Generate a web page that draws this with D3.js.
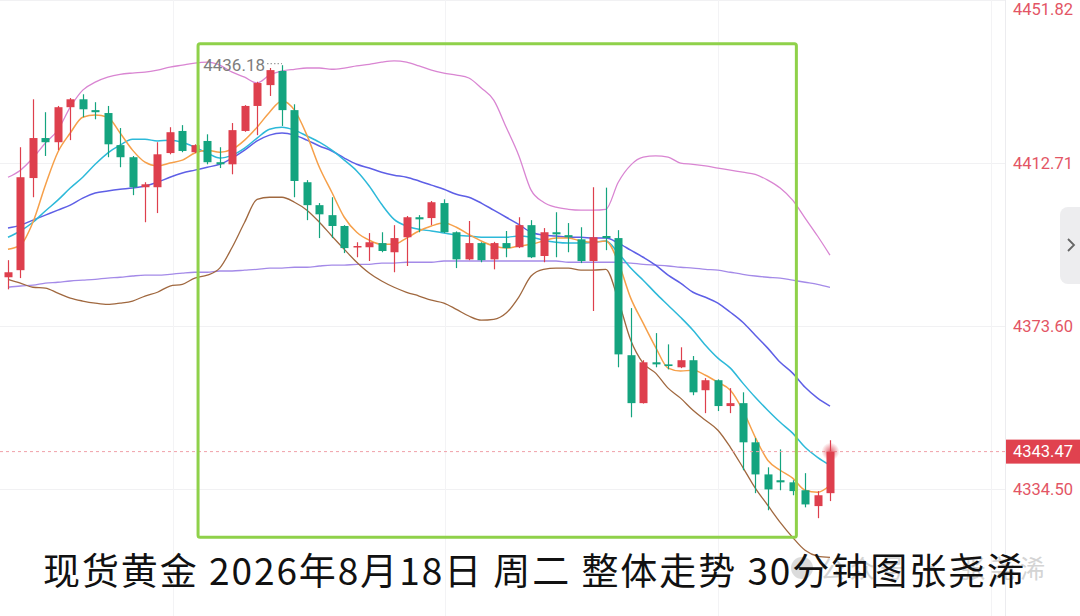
<!DOCTYPE html>
<html>
<head>
<meta charset="utf-8">
<script src="https://cdn.jsdelivr.net/npm/d3@7"></script>
<style>
  html, body { margin: 0; padding: 0; background: #fff; }
  svg { display: block; }
</style>
</head>
<body>
<div id="chart"></div>
<script>
// 30-minute candles, values
const candleOpen = [4385.3, 4387.0, 4409.1, 4418.7, 4417.7, 4426.1, 4428.0, 4425.4, 4424.7, 4417.0,
    4414.1, 4406.9, 4406.9, 4415.1, 4420.4, 4415.3, 4418.0, 4412.9, 4412.4, 4420.4,
    4426.4, 4431.4, 4434.8, 4425.4, 4408.1, 4402.6, 4400.2, 4397.6, 4392.5, 4392.5,
    4393.5, 4391.3, 4394.9, 4399.7, 4399.5, 4403.1, 4396.1, 4389.6, 4393.5, 4389.6,
    4393.5, 4392.5, 4397.8, 4390.4, 4396.1, 4395.4, 4394.4, 4389.2, 4395.2, 4394.7,
    4366.6, 4355.1, 4364.9, 4364.4, 4363.7, 4365.4, 4358.2, 4360.6, 4354.4, 4355.1,
    4345.7, 4338.0, 4336.6, 4336.1, 4334.2, 4330.4, 4333.5];
const candleHigh = [4389.4, 4416.5, 4428.0, 4424.9, 4426.4, 4428.3, 4429.2, 4427.3, 4426.4, 4421.1,
    4414.4, 4408.1, 4417.7, 4421.3, 4421.8, 4417.2, 4419.6, 4416.5, 4422.3, 4426.6,
    4432.2, 4435.5, 4436.18, 4426.8, 4408.6, 4403.1, 4404.5, 4397.8, 4393.7, 4395.9,
    4396.1, 4397.8, 4400.0, 4400.2, 4403.6, 4404.0, 4396.3, 4398.8, 4393.7, 4393.8,
    4396.4, 4399.7, 4399.0, 4397.1, 4400.9, 4398.3, 4397.3, 4406.9, 4406.8, 4396.6,
    4377.9, 4365.4, 4371.9, 4369.2, 4368.5, 4366.4, 4361.1, 4360.8, 4358.7, 4357.7,
    4346.7, 4339.7, 4344.0, 4336.6, 4338.3, 4334.0, 4346.2];
const candleLow = [4382.4, 4385.1, 4404.5, 4414.4, 4415.8, 4418.2, 4423.7, 4423.2, 4414.1, 4411.7,
    4405.0, 4398.5, 4400.7, 4414.8, 4415.3, 4415.1, 4412.4, 4411.5, 4410.0, 4420.2,
    4419.4, 4428.8, 4421.6, 4404.5, 4399.0, 4394.7, 4394.7, 4391.1, 4390.1, 4389.2,
    4391.3, 4386.5, 4388.0, 4396.1, 4397.8, 4395.9, 4387.5, 4389.4, 4388.9, 4387.2,
    4390.1, 4392.3, 4389.9, 4388.9, 4390.1, 4391.3, 4388.7, 4377.2, 4391.8, 4363.7,
    4351.7, 4355.0, 4363.7, 4363.2, 4363.5, 4357.0, 4352.7, 4353.2, 4352.7, 4339.0,
    4333.5, 4329.4, 4334.2, 4333.0, 4330.1, 4327.5, 4331.6];
const candleClose = [4386.5, 4409.3, 4418.7, 4417.7, 4426.1, 4428.0, 4425.6, 4424.9, 4417.2, 4414.1,
    4406.9, 4407.6, 4414.8, 4420.1, 4415.6, 4417.0, 4412.9, 4412.4, 4420.6, 4426.4,
    4431.9, 4435.0, 4425.4, 4408.4, 4402.6, 4400.4, 4397.6, 4392.3, 4392.8, 4393.7,
    4391.6, 4394.7, 4399.7, 4399.2, 4403.3, 4396.1, 4389.6, 4393.5, 4389.4, 4393.5,
    4392.3, 4397.8, 4390.1, 4396.1, 4395.6, 4394.9, 4389.2, 4394.9, 4394.7, 4366.8,
    4355.1, 4364.9, 4364.4, 4364.0, 4365.4, 4357.7, 4360.6, 4354.4, 4355.1, 4345.7,
    4338.0, 4334.4, 4336.1, 4334.0, 4330.8, 4333.0, 4343.47];

// moving averages
const ma5 = [4392.0, 4393.0, 4398.5, 4407.4, 4415.3, 4419.9, 4423.7, 4424.2, 4423.7, 4419.9,
    4415.8, 4412.9, 4412.0, 4412.7, 4413.4, 4415.1, 4415.8, 4415.3, 4416.0, 4418.2,
    4421.3, 4424.9, 4427.6, 4425.4, 4419.4, 4411.7, 4405.7, 4399.7, 4396.1, 4394.2,
    4393.2, 4393.2, 4394.7, 4396.4, 4397.6, 4398.3, 4397.3, 4395.6, 4394.0, 4392.8,
    4392.3, 4392.8, 4393.2, 4394.0, 4394.7, 4394.7, 4394.0, 4393.7, 4394.0, 4388.9,
    4380.3, 4374.3, 4368.5, 4363.5, 4362.8, 4363.0, 4361.8, 4360.1, 4358.2, 4353.4,
    4346.9, 4341.4, 4339.0, 4337.1, 4334.2, 4333.7, 4335.4];
const ma10 = [4394.9, 4396.4, 4398.5, 4401.2, 4403.8, 4406.7, 4409.3, 4412.4, 4415.1, 4417.0,
    4418.4, 4418.4, 4418.0, 4418.2, 4417.7, 4416.5, 4415.1, 4413.9, 4414.6, 4416.3,
    4418.7, 4420.8, 4421.3, 4420.6, 4419.2, 4417.7, 4415.8, 4413.4, 4410.8, 4407.2,
    4402.8, 4399.2, 4397.6, 4396.8, 4396.4, 4395.9, 4395.4, 4395.2, 4394.9, 4394.9,
    4394.9, 4395.2, 4394.9, 4394.2, 4393.7, 4393.5, 4393.5, 4393.7, 4394.0, 4391.1,
    4387.5, 4384.6, 4381.5, 4378.6, 4375.7, 4372.6, 4369.0, 4365.9, 4363.5, 4359.9,
    4356.5, 4353.4, 4350.5, 4347.9, 4344.5, 4342.1, 4340.2];
const ma20 = [4397.1, 4397.8, 4399.0, 4400.2, 4401.4, 4402.6, 4404.3, 4405.5, 4406.0, 4406.4,
    4406.7, 4407.2, 4408.1, 4409.3, 4410.3, 4411.0, 4411.7, 4412.4, 4413.9, 4415.8,
    4418.0, 4419.4, 4419.9, 4419.4, 4418.2, 4416.8, 4415.6, 4413.9, 4412.4, 4411.5,
    4410.5, 4409.8, 4409.3, 4408.4, 4407.4, 4406.4, 4405.2, 4404.5, 4403.1, 4401.4,
    4399.7, 4398.0, 4396.1, 4395.4, 4395.2, 4394.9, 4394.9, 4394.7, 4394.7, 4393.5,
    4391.8, 4390.1, 4388.2, 4385.8, 4383.9, 4381.7, 4380.5, 4379.1, 4376.9, 4374.5,
    4371.4, 4368.3, 4364.9, 4362.3, 4358.9, 4356.3, 4354.4];
const ma60 = [4382.9, 4383.2, 4383.4, 4383.9, 4384.1, 4384.4, 4384.6, 4384.8, 4385.1, 4385.3,
    4385.6, 4385.8, 4385.8, 4386.0, 4386.3, 4386.5, 4386.5, 4386.8, 4386.8, 4387.0,
    4387.2, 4387.5, 4387.5, 4387.7, 4387.7, 4388.0, 4388.2, 4388.2, 4388.4, 4388.4,
    4388.7, 4388.7, 4388.9, 4388.9, 4388.9, 4389.2, 4389.2, 4389.2, 4389.2, 4389.2,
    4389.2, 4389.2, 4389.2, 4389.2, 4389.2, 4388.9, 4388.9, 4388.9, 4388.9, 4388.9,
    4388.7, 4388.4, 4388.2, 4388.0, 4387.7, 4387.5, 4387.2, 4387.0, 4386.5, 4386.0,
    4385.6, 4385.3, 4385.1, 4384.6, 4384.1, 4383.6, 4382.9];

// bollinger bands
const bollUpper = [4409.3, 4411.0, 4413.9, 4417.5, 4420.6, 4426.1, 4430.2, 4432.1, 4433.3, 4434.0,
    4434.3, 4434.5, 4435.0, 4435.7, 4436.2, 4436.7, 4436.9, 4436.2, 4434.5, 4433.3,
    4431.9, 4433.8, 4434.8, 4435.2, 4435.5, 4435.5, 4435.2, 4435.5, 4436.0, 4436.4,
    4436.9, 4437.2, 4436.9, 4436.0, 4435.0, 4434.3, 4433.8, 4433.1, 4430.7, 4427.8,
    4421.3, 4414.6, 4406.2, 4403.3, 4402.1, 4401.6, 4401.4, 4401.4, 4401.6, 4408.1,
    4412.2, 4414.1, 4414.4, 4414.1, 4412.7, 4412.4, 4412.0, 4411.5, 4411.0, 4410.5,
    4410.0, 4408.6, 4406.7, 4403.8, 4399.5, 4395.2, 4390.6];
const bollLower = [4384.8, 4383.9, 4382.9, 4382.7, 4381.5, 4380.3, 4379.6, 4379.1, 4378.8, 4379.1,
    4379.6, 4380.8, 4381.7, 4383.2, 4383.6, 4385.1, 4385.8, 4387.5, 4392.5, 4398.5,
    4404.0, 4404.5, 4404.5, 4403.3, 4401.4, 4398.5, 4395.2, 4392.0, 4388.9, 4386.3,
    4384.4, 4382.9, 4381.7, 4380.8, 4379.8, 4379.1, 4377.6, 4376.0, 4375.0, 4375.2,
    4376.7, 4380.5, 4385.6, 4387.2, 4387.5, 4387.5, 4387.0, 4387.0, 4387.2, 4379.8,
    4370.2, 4364.7, 4362.3, 4358.7, 4356.3, 4353.4, 4351.0, 4348.6, 4344.5, 4339.7,
    4334.7, 4330.6, 4326.5, 4322.9, 4319.8, 4318.4, 4318.1];

const yTicks = [4451.82, 4412.71, 4373.60, 4334.50];
const gridSlots = [13.25, 35.1, 57.0, 78.9];   // vertical grid, in candle slots
const highLabel = 4436.18;
const boxSlots = [15.26, 63.3];                 // highlighted range
const boxPrices = [4441.3, 4322.9];
const title = '现货黄金 2026年8月18日 周二 整体走势 30分钟图张尧浠';
const watermark = '公众号 · 张尧浠';

const W = 1080, H = 616;
const plotRight = 1005;
const UP = '#de3f4d', DOWN = '#14a47f';

const svg = d3.select('#chart').append('svg')
    .attr('width', W)
    .attr('height', H);

const x = d3.scaleLinear().domain([0, candleOpen.length - 1]).range([8, 830]);
const y = d3.scaleLinear().domain([4334.50, 4451.82]).range([489, 0]);

// grid
const grid = svg.append('g');
grid.selectAll('.hg')
    .data(yTicks)
    .enter().append('line')
    .attr('x1', 0).attr('x2', plotRight)
    .attr('y1', d => Math.round(y(d)) + 0.5).attr('y2', d => Math.round(y(d)) + 0.5)
    .attr('stroke', '#f1f1f3');
grid.selectAll('.vg')
    .data(gridSlots)
    .enter().append('line')
    .attr('x1', d => Math.round(x(d)) + 0.5).attr('x2', d => Math.round(x(d)) + 0.5)
    .attr('y1', 0).attr('y2', H)
    .attr('stroke', '#f3f3f5');
grid.append('line')
    .attr('x1', plotRight + 0.5).attr('x2', plotRight + 0.5)
    .attr('y1', 0).attr('y2', H)
    .attr('stroke', '#ececef');

// watermark (faint, mostly hidden behind the title)
const wm = svg.append('g').attr('opacity', 0.5);
wm.append('circle').attr('cx', 802).attr('cy', 568).attr('r', 11).attr('fill', '#b9b9b9');
wm.append('text')
    .attr('x', 820).attr('y', 578)
    .attr('font-family', '"Noto Sans CJK SC", sans-serif')
    .attr('font-size', 25)
    .attr('fill', '#aaa')
    .attr('textLength', 225)
    .text(watermark);

// lines
const plot = svg.append('g');
plot.append('clipPath').attr('id', 'clip')
    .append('rect').attr('x', 0).attr('y', 0).attr('width', plotRight).attr('height', H);
const lineLayer = plot.append('g').attr('clip-path', 'url(#clip)');

const series = [
    { values: ma60, color: '#a48ae8', width: 1.3 },
    { values: bollUpper, color: '#d985d2', width: 1.3 },
    { values: bollLower, color: '#a0683f', width: 1.3 },
    { values: ma20, color: '#5e5fe6', width: 1.5 },
    { values: ma10, color: '#2db9d9', width: 1.5 },
    { values: ma5, color: '#f6a04a', width: 1.5 }
];
const line = d3.line()
    .x((d, i) => x(i))
    .y(d => y(d))
    .curve(d3.curveMonotoneX);

lineLayer.selectAll('path.ma')
    .data(series)
    .enter().append('path')
    .attr('class', 'ma')
    .attr('d', d => line(d.values))
    .attr('fill', 'none')
    .attr('stroke', d => d.color)
    .attr('stroke-width', d => d.width);

// candles
const candles = d3.range(candleOpen.length).map(i => ({
    i, o: candleOpen[i], h: candleHigh[i], l: candleLow[i], c: candleClose[i]
}));
const cg = lineLayer.selectAll('g.candle')
    .data(candles)
    .enter().append('g')
    .attr('class', 'candle');
cg.append('line')
    .attr('x1', d => Math.round(x(d.i)) + 0.5).attr('x2', d => Math.round(x(d.i)) + 0.5)
    .attr('y1', d => y(d.h)).attr('y2', d => y(d.l))
    .attr('stroke', d => d.c >= d.o ? UP : DOWN)
    .attr('stroke-width', 1.2);
cg.append('rect')
    .attr('x', d => Math.round(x(d.i)) - 3.5)
    .attr('width', 8)
    .attr('y', d => y(Math.max(d.o, d.c)))
    .attr('height', d => Math.max(1.5, Math.abs(y(d.o) - y(d.c))))
    .attr('fill', d => d.c >= d.o ? UP : DOWN);

// current price line and glow
const last = candleClose[candleClose.length - 1];
svg.append('line')
    .attr('x1', 0).attr('x2', plotRight)
    .attr('y1', y(last)).attr('y2', y(last))
    .attr('stroke', '#f0a0a8')
    .attr('stroke-width', 1)
    .attr('stroke-dasharray', '3,3');
const defs = svg.append('defs');
const glow = defs.append('radialGradient').attr('id', 'glow');
glow.append('stop').attr('offset', '0%').attr('stop-color', UP).attr('stop-opacity', 0.8);
glow.append('stop').attr('offset', '100%').attr('stop-color', UP).attr('stop-opacity', 0);
svg.append('circle')
    .attr('cx', x(candleOpen.length - 1) + 0.5).attr('cy', y(last))
    .attr('r', 9)
    .attr('fill', 'url(#glow)');

// highest price marker
const hiIdx = candleHigh.indexOf(highLabel);
svg.append('line')
    .attr('x1', x(hiIdx) - 15).attr('x2', x(hiIdx))
    .attr('y1', y(highLabel) - 1.5).attr('y2', y(highLabel) - 1.5)
    .attr('stroke', '#8a8a8a')
    .attr('stroke-dasharray', '1.5,2');
svg.append('text')
    .attr('x', x(hiIdx) - 17).attr('y', y(highLabel))
    .attr('dy', '0.35em')
    .attr('text-anchor', 'end')
    .attr('font-family', 'Roboto, sans-serif')
    .attr('font-size', 17)
    .attr('fill', '#7d7d7d')
    .text(highLabel.toFixed(2));

// highlighted range box
svg.append('rect')
    .attr('x', x(boxSlots[0])).attr('y', y(boxPrices[0]))
    .attr('width', x(boxSlots[1]) - x(boxSlots[0]))
    .attr('height', y(boxPrices[1]) - y(boxPrices[0]))
    .attr('rx', 2)
    .attr('fill', 'none')
    .attr('stroke', '#8fd14a')
    .attr('stroke-width', 3);

// price axis
const axis = svg.append('g')
    .attr('transform', `translate(${plotRight},0)`)
    .call(d3.axisRight(y).tickValues(yTicks).tickSize(0).tickPadding(8).tickFormat(d3.format('.2f')));
axis.select('.domain').remove();
axis.selectAll('text')
    .attr('font-family', 'Roboto, sans-serif')
    .attr('font-size', 16.5)
    .attr('fill', '#e35565')
    .attr('dy', d => d === yTicks[0] ? '0.9em' : '0.33em');

// last price tag
svg.append('rect')
    .attr('x', plotRight + 1).attr('y', y(last) - 12)
    .attr('width', W - plotRight - 1).attr('height', 24)
    .attr('fill', '#e0424f');
svg.append('text')
    .attr('x', plotRight + 8).attr('y', y(last))
    .attr('dy', '0.35em')
    .attr('font-family', 'Roboto, sans-serif')
    .attr('font-size', 16.5)
    .attr('fill', '#fff')
    .text(last.toFixed(2));

// side panel button
svg.append('rect')
    .attr('x', 1060).attr('y', 207).attr('width', 32).attr('height', 77).attr('rx', 8)
    .attr('fill', '#ededef');
svg.append('path')
    .attr('d', 'M1068,239 L1074,245 L1068,251')
    .attr('fill', 'none')
    .attr('stroke', '#666')
    .attr('stroke-width', 1.8);

// title
svg.append('text')
    .attr('x', 43).attr('y', 585)
    .attr('font-family', '"Noto Sans CJK SC", "Noto Sans", sans-serif')
    .attr('font-size', 37)
    .attr('fill', '#111')
    .attr('textLength', 981)
    .attr('lengthAdjust', 'spacing')
    .text(title);
</script>
</body>
</html>
